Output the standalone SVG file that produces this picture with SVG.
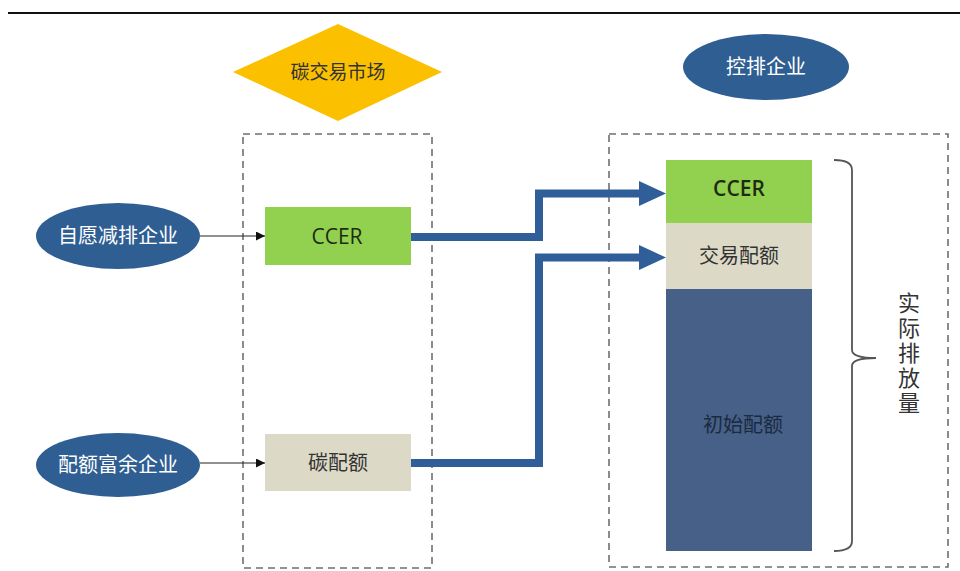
<svg xmlns="http://www.w3.org/2000/svg" width="960" height="571" viewBox="0 0 960 571">
<defs>
<style>
.cjk{font-family:"Noto Sans CJK SC","Noto Sans",sans-serif;}
.lat{font-family:"Open Sans","Noto Sans","Noto Sans CJK SC",sans-serif;}
.wt{fill:#ffffff;font-size:20px;}
.ell{fill:#2F5E93;}
.dash{fill:none;stroke:#6f6f6f;stroke-width:1.6;stroke-dasharray:7,5;}
.green{fill:#92D050;}
.beige{fill:#DCDAC6;}
.thin{fill:none;stroke:#222;stroke-width:1;}
.thick{fill:none;stroke:#2F5E98;stroke-width:8;stroke-linejoin:miter;}
.head{fill:#2F5E98;}
</style>
<marker id="ah" viewBox="0 0 10 10" refX="10" refY="5" markerWidth="9" markerHeight="9" markerUnits="userSpaceOnUse" orient="auto">
<path d="M0,0 L10,5 L0,10 Z" fill="#111"/>
</marker>
</defs>
<rect width="960" height="571" fill="#ffffff"/>
<line x1="8" y1="13" x2="960" y2="13" stroke="#111" stroke-width="2"/>

<g id="market">
<polygon points="338,24 442,72 338,121 233,72" fill="#FBC000"/>
<text x="338" y="79" text-anchor="middle" class="cjk" font-size="19" fill="#333">碳交易市场</text>
</g>

<g id="controlled">
<ellipse cx="766" cy="67" rx="83" ry="33" class="ell"/>
<text x="766" y="74" text-anchor="middle" class="cjk wt">控排企业</text>
</g>

<g id="market-box"><rect x="243" y="134" width="189" height="434" class="dash"/></g>
<g id="controlled-box"><rect x="609" y="134" width="339" height="433" class="dash"/></g>

<g id="voluntary">
<ellipse cx="118" cy="236" rx="82" ry="33" class="ell"/>
<text x="118" y="243" text-anchor="middle" class="cjk wt">自愿减排企业</text>
</g>

<g id="surplus">
<ellipse cx="118" cy="465" rx="82" ry="32" class="ell"/>
<text x="118" y="472" text-anchor="middle" class="cjk wt">配额富余企业</text>
</g>

<g id="ccer-left">
<rect x="265" y="207" width="146" height="58" class="green"/>
<text x="337" y="244" text-anchor="middle" class="lat" font-size="21" fill="#1e2b12">CCER</text>
</g>

<g id="quota-left">
<rect x="265" y="434" width="146" height="57" class="beige"/>
<text x="338" y="470" text-anchor="middle" class="cjk" font-size="20" fill="#333">碳配额</text>
</g>

<g id="stack">
<rect x="666" y="160" width="146" height="63" class="green"/>
<text x="739" y="196" text-anchor="middle" class="lat" font-size="21" font-weight="600" fill="#1e2b12">CCER</text>
<rect x="666" y="223" width="146" height="66" class="beige"/>
<text x="739" y="263" text-anchor="middle" class="cjk" font-size="20" fill="#333">交易配额</text>
<rect x="666" y="289" width="146" height="262" fill="#466087"/>
<text x="743" y="432" text-anchor="middle" class="cjk" font-size="20" fill="#1b2a40">初始配额</text>
</g>

<g id="actual">
<path d="M834,160 Q852,160 852,170 L852,350 Q852,358 876,358 Q852,358 852,366 L852,541 Q852,551 834,551" fill="none" stroke="#555" stroke-width="1.8"/>
<text x="909" y="292" class="cjk" font-size="22" fill="#333" writing-mode="vertical-rl" letter-spacing="3">实际排放量</text>
</g>

<g id="connectors">
<line x1="200" y1="236" x2="265" y2="236" class="thin" marker-end="url(#ah)"/>
<line x1="200" y1="463" x2="265" y2="463" class="thin" marker-end="url(#ah)"/>
<path d="M411,237 L539,237 L539,193.5 L641,193.5" class="thick"/>
<polygon points="639,181 666,193.5 639,206" class="head"/>
<path d="M411,463 L539,463 L539,257.5 L641,257.5" class="thick"/>
<polygon points="639,245 666,257.5 639,270" class="head"/>
</g>
</svg>
